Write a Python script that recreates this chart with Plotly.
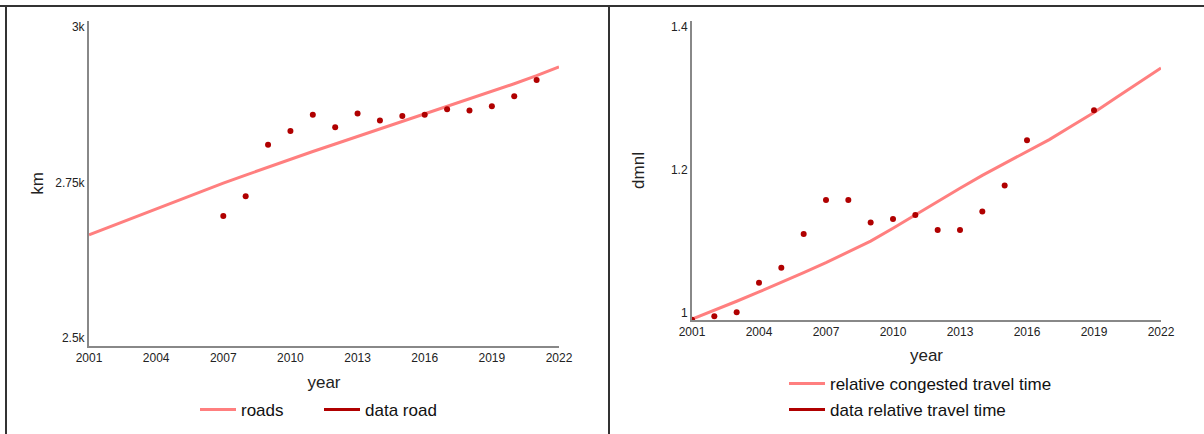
import plotly.graph_objects as go

years = list(range(2001, 2023))
roads = [2666, 2680, 2694, 2708, 2722, 2736, 2749, 2762, 2775, 2788, 2800,
         2812, 2824, 2836, 2848, 2861, 2873, 2885, 2897, 2909, 2922, 2936]
data_road_years = list(range(2007, 2022))
data_road = [2696, 2728, 2811, 2833, 2859, 2839, 2861, 2850, 2857, 2859,
             2868, 2866, 2873, 2889, 2915]

rel_congested = [0.991, 1.003, 1.016, 1.029, 1.042, 1.056, 1.070, 1.085, 1.100,
                 1.118, 1.137, 1.156, 1.174, 1.192, 1.209, 1.226, 1.242, 1.261,
                 1.280, 1.301, 1.321, 1.342]
data_rel_years = [2001, 2002, 2003, 2004, 2005, 2006, 2007, 2008, 2009, 2010,
                  2011, 2012, 2013, 2014, 2015, 2016, 2019]
data_rel = [0.990, 0.995, 1.0005, 1.042, 1.063, 1.110, 1.1575, 1.1575, 1.126,
            1.131, 1.1365, 1.1155, 1.1155, 1.1416, 1.178, 1.241, 1.283]

x_ticks = [2001, 2004, 2007, 2010, 2013, 2016, 2019, 2022]
left_yticks = [2500, 2750, 3000]
left_yticktext = ["2.5k", "2.75k", "3k"]
right_yticks = [1, 1.2, 1.4]
right_yticktext = ["1", "1.2", "1.4"]

LINE = "#FF7F7F"
DOT = "#B00000"
FONT = "Arial, Liberation Sans, sans-serif"
W, H = 1204, 434

fig = go.Figure()
fig.add_trace(go.Scatter(x=years, y=roads, mode="lines", name="roads",
                         line=dict(color=LINE, width=3), xaxis="x", yaxis="y",
                         legend="legend"))
fig.add_trace(go.Scatter(x=data_road_years, y=data_road, mode="markers",
                         marker=dict(color=DOT, size=6), xaxis="x", yaxis="y",
                         showlegend=False))
fig.add_trace(go.Scatter(x=[None], y=[None], mode="lines", name="data road",
                         line=dict(color=DOT, width=3), xaxis="x", yaxis="y",
                         legend="legend2"))
fig.add_trace(go.Scatter(x=years, y=rel_congested, mode="lines",
                         name="relative congested travel time",
                         line=dict(color=LINE, width=3), xaxis="x2", yaxis="y2",
                         legend="legend3"))
fig.add_trace(go.Scatter(x=data_rel_years, y=data_rel, mode="markers",
                         marker=dict(color=DOT, size=6), xaxis="x2", yaxis="y2",
                         showlegend=False))
fig.add_trace(go.Scatter(x=[None], y=[None], mode="lines",
                         name="data relative travel time",
                         line=dict(color=DOT, width=3), xaxis="x2", yaxis="y2",
                         legend="legend4"))

def px_x(p):
    return p / W

def px_y(p):
    return (H - p) / H

axis_common = dict(showgrid=False, zeroline=False, showline=True,
                   linecolor="#888888", linewidth=2, ticks="", automargin=False,
                   tickfont=dict(family=FONT, size=12, color="#222222"))

leg_common = dict(xanchor="left", yanchor="middle", itemwidth=36,
                  font=dict(size=17, color="#111111"), bgcolor="rgba(0,0,0,0)")

fig.update_layout(
    width=W, height=H, margin=dict(l=0, r=0, t=0, b=0),
    paper_bgcolor="white", plot_bgcolor="white",
    font=dict(family=FONT, color="#222222"),
    xaxis=dict(domain=[px_x(89), px_x(559)], range=[2001, 2022], anchor="y",
               tickvals=x_ticks, title=dict(text="year", font=dict(size=17), standoff=12),
               **axis_common),
    yaxis=dict(domain=[px_y(346), px_y(21)], range=[2487, 3010], anchor="x",
               tickvals=left_yticks, ticktext=left_yticktext,
               title=dict(text="km", font=dict(size=17), standoff=7),
               **axis_common),
    xaxis2=dict(domain=[px_x(692), px_x(1161)], range=[2001, 2022], anchor="y2",
                tickvals=x_ticks, title=dict(text="year", font=dict(size=17), standoff=11),
                **axis_common),
    yaxis2=dict(domain=[px_y(320), px_y(21)], range=[0.9898, 1.4078], anchor="x2",
                tickvals=right_yticks, ticktext=right_yticktext,
                title=dict(text="dmnl", font=dict(size=17), standoff=22),
                **axis_common),
    legend=dict(x=px_x(195), y=px_y(410), **leg_common),
    legend2=dict(x=px_x(319), y=px_y(410), **leg_common),
    legend3=dict(x=px_x(784), y=px_y(384), **leg_common),
    legend4=dict(x=px_x(784), y=px_y(410), **leg_common),
    shapes=[
        dict(type="line", xref="paper", yref="paper", x0=0, x1=1,
             y0=px_y(6), y1=px_y(6), line=dict(color="#333333", width=2)),
        dict(type="line", xref="paper", yref="paper", x0=px_x(6), x1=px_x(6),
             y0=0, y1=px_y(6), line=dict(color="#333333", width=2)),
        dict(type="line", xref="paper", yref="paper", x0=px_x(609), x1=px_x(609),
             y0=0, y1=px_y(6), line=dict(color="#333333", width=2)),
    ],
)

fig.write_html("out.html")
